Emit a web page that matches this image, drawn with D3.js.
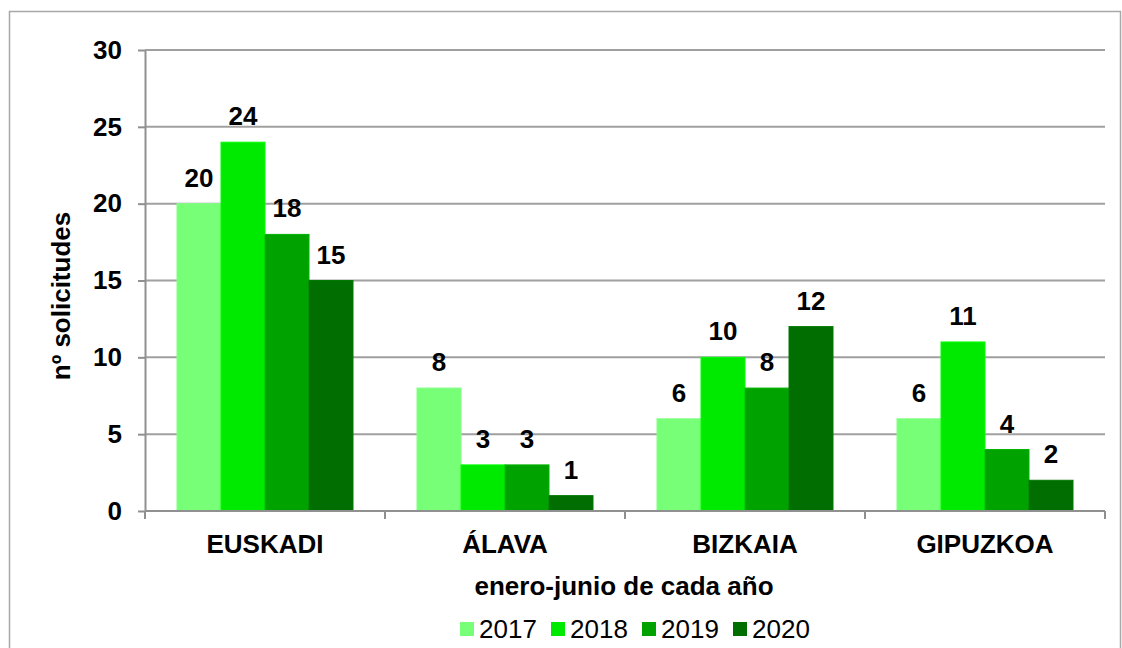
<!DOCTYPE html>
<html>
<head>
<meta charset="utf-8">
<script src="https://cdn.jsdelivr.net/npm/d3@7"></script>
<style>
  body { margin: 0; background: #fff; }
  svg { display: block; font-family: Arial, "Liberation Sans", sans-serif; }
  .grid line { stroke: #a0a0a0; stroke-width: 2; }
  .axis path, .axis line { stroke: #909090; stroke-width: 2; }
  .axis text { font-weight: bold; font-size: 26px; fill: #000; }
  .label { font-weight: bold; font-size: 26px; text-anchor: middle; }
</style>
</head>
<body>
<div id="chart"></div>
<script>
// chart values
var categories = ["EUSKADI", "ÁLAVA", "BIZKAIA", "GIPUZKOA"];
var years = ["2017", "2018", "2019", "2020"];
var values2017 = [20, 8, 6, 6];
var values2018 = [24, 3, 10, 11];
var values2019 = [18, 3, 8, 4];
var values2020 = [15, 1, 12, 2];
var yTicks = [0, 5, 10, 15, 20, 25, 30];
var colors = ["#77ff77", "#00ea00", "#00a200", "#006e00"];

var series = [values2017, values2018, values2019, values2020];

var width = 1122, height = 648;
var margin = {top: 50, right: 17, bottom: 137, left: 145};
var innerW = width - margin.left - margin.right;
var innerH = height - margin.top - margin.bottom;

var svg = d3.select("#chart").append("svg")
    .attr("width", width)
    .attr("height", height);

// outer frame
svg.append("rect")
    .attr("x", 9.5).attr("y", 11.5)
    .attr("width", 1111).attr("height", 660)
    .attr("fill", "none")
    .attr("stroke", "#a8a8a8")
    .attr("stroke-width", 1.5);

var g = svg.append("g")
    .attr("transform", "translate(" + margin.left + "," + margin.top + ")");

var x0 = d3.scaleBand().domain(categories).range([0, innerW]);
var groupPad = 32;
var x1 = d3.scaleBand().domain(years).range([groupPad, x0.bandwidth() - groupPad]);
var y = d3.scaleLinear().domain([0, 30]).range([innerH, 0]);

// gridlines
g.append("g").attr("class", "grid")
    .selectAll("line")
    .data(yTicks.filter(function(d) { return d > 0; }))
    .enter().append("line")
    .attr("x1", 0).attr("x2", innerW)
    .attr("y1", function(d) { return y(d); })
    .attr("y2", function(d) { return y(d); });

// y axis
var yAxis = d3.axisLeft(y).tickValues(yTicks).tickSize(7).tickPadding(16).tickSizeOuter(0);
g.append("g").attr("class", "axis y")
    .call(yAxis);

// bars
years.forEach(function(yr, i) {
    g.selectAll(".bar" + yr)
        .data(series[i])
        .enter().append("rect")
        .attr("x", function(d, j) { return x0(categories[j]) + x1(yr); })
        .attr("y", function(d) { return y(d); })
        .attr("width", x1.bandwidth())
        .attr("height", function(d) { return innerH - y(d); })
        .attr("fill", colors[i])
        .attr("stroke", d3.color(colors[i]).brighter(0.3))
        .attr("stroke-width", 1);

    g.selectAll(".lab" + yr)
        .data(series[i])
        .enter().append("text")
        .attr("class", "label")
        .attr("x", function(d, j) { return x0(categories[j]) + x1(yr) + x1.bandwidth() / 2; })
        .attr("y", function(d) { return y(d) - 17; })
        .text(function(d) { return d; });
});

// x axis with ticks between categories
var bounds = d3.range(categories.length + 1).map(function(k) { return k * x0.step(); });
var xa = g.append("g").attr("class", "axis x")
    .attr("transform", "translate(0," + innerH + ")");
xa.append("line").attr("x1", 0).attr("x2", innerW).attr("y1", 0).attr("y2", 0);
xa.selectAll(".tk").data(bounds).enter().append("line")
    .attr("x1", function(d) { return d; }).attr("x2", function(d) { return d; })
    .attr("y1", 0).attr("y2", 8);
xa.selectAll(".cat").data(categories).enter().append("text")
    .attr("x", function(d) { return x0(d) + x0.bandwidth() / 2; })
    .attr("y", 42)
    .attr("text-anchor", "middle")
    .text(function(d) { return d; });

// axis titles
svg.append("text")
    .attr("x", margin.left + innerW / 2 - 1)
    .attr("y", 595)
    .attr("text-anchor", "middle")
    .attr("font-weight", "bold")
    .attr("font-size", 26)
    .text("enero-junio de cada año");

svg.append("text")
    .attr("transform", "translate(70,296) rotate(-90)")
    .attr("text-anchor", "middle")
    .attr("font-weight", "bold")
    .attr("font-size", 26)
    .text("nº solicitudes");

// legend
var legend = svg.append("g").attr("transform", "translate(460,622)");
var item = legend.selectAll(".item").data(years).enter().append("g")
    .attr("transform", function(d, i) { return "translate(" + (i * 91) + ",0)"; });
item.append("rect")
    .attr("width", 14).attr("height", 14)
    .attr("fill", function(d, i) { return colors[i]; });
item.append("text")
    .attr("x", 19).attr("y", 16)
    .attr("font-size", 26)
    .text(function(d) { return d; });
</script>
</body>
</html>
